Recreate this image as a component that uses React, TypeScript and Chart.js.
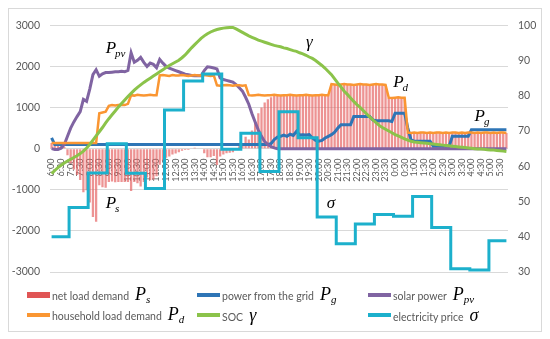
import React, { useEffect, useRef } from 'react';
import { Chart, registerables } from 'chart.js';

Chart.register(...registerables);

// Half-hour tick labels (6:00 -> 5:30 next day); data are every 10 minutes (3 slots per label)
const tickLabels = [
  '6:00','6:30','7:00','7:30','8:00','8:30','9:00','9:30','10:00','10:30','11:00','11:30',
  '12:00','12:30','13:00','13:30','14:00','14:30','15:00','15:30','16:00','16:30','17:00','17:30',
  '18:00','18:30','19:00','19:30','20:00','20:30','21:00','21:30','22:00','22:30','23:00','23:30',
  '0:00','0:30','1:00','1:30','2:00','2:30','3:00','3:30','4:00','4:30','5:00','5:30',
];
const slots = tickLabels.flatMap((t) => [t, '', '']);

// net load demand Ps (W), 10-min resolution
const netLoad = [
  140, 160, 160, 130,
  40, -160, -360, -510, -640, -760, -1060, -1010, -1310, -1660, -1780,
  -890, -940,
  -950, -810, -800, -820, -810, -810, -810, -810,
  -1030, -810, -840, -920, -810, -700, -770, -750, -670,
  -390, -290, -220, -190, -140, -120, -90, -50, -30, -30, 0, 20, 10, 10, -110, -210, -210, -180,
  -400, -190, -140, -110, -100, -90, -20, 60, 130, 290,
  220, 440, 650, 860, 1000, 1120, 1200, 1250, 1290,
  1300, 1290, 1300, 1300, 1310, 1300, 1290, 1300, 1300, 1310, 1300, 1290, 1300, 1300, 1310, 1300, 1300,
  1570, 1560, 1550, 1560, 1570, 1560, 1560, 1550, 1560, 1570, 1560, 1560, 1550, 1560, 1570, 1560, 1560, 1550,
  1240, 1230, 1240, 1250, 1240, 1240,
  390, 380, 390, 380, 390, 390, 380, 390, 380, 390, 390, 380, 390, 380, 390, 390,
  380, 390, 380, 390, 390, 380, 390, 380, 390, 390, 380, 390, 380, 390, 390, 380,
];

// power from the grid Pg (W)
const gridPower = [
  260,
  100, 100, 100, 100, 100, 100, 100, 100, 100, 100, 100, 100, 100, 100, 100, 100, 100,
  100, 100, 100, 100, 100, 100, 100, 100, 100, 100, 100, 100, 100, 100, 100, 100, 100,
  100, 100, 100, 100, 100, 100, 100, 100, 100, 100, 100, 100, 100, 100, 100, 100, 100,
  100, 100, 100, 100, 100, 100, 100, 100, 100, 100, 100, 100, 100, 100, 100, 100, 100,
  120, 220, 280, 300, 330, 300, 350, 320, 420, 330, 340, 330, 340, 260, 200, 180, 200, 260,
  300, 340, 400, 500, 580, 580, 580, 580, 780, 780, 780, 780, 780, 780, 700, 680, 680, 680,
  680, 680, 660, 860, 860, 860, 860, 500, 220,
  180, 180, 180, 180, 180, 180,
  60, 60, 60, 60, 60, 60,
  300, 300, 300, 300, 300, 300,
  460, 460, 460, 460, 460, 460, 460, 460, 460, 460, 460, 460,
];

// solar power Ppv (W)
const solarPower = [
  0, -20, -20, 10,
  100, 300, 500, 650, 780, 900, 1200, 1150, 1450, 1800, 1920, 1760, 1820, 1850, 1850, 1860, 1870, 1870, 1880, 1870, 1900,
  2330, 2100, 2150, 2220, 2100, 2000, 2080, 2050, 1970, 2170, 2080,
  2000, 1960, 1930, 1900, 1870, 1840, 1810, 1800, 1780, 1770, 1770, 1770, 1900, 1990, 1980, 1960, 1940,
  1720, 1680, 1660, 1640, 1620, 1560, 1480, 1400, 1250, 1080, 850, 650, 450, 300, 170, 100, 50, 20,
  0, 0, 0, 0, 0, 0, 0, 0, 0, 0, 0, 0, 0, 0, 0, 0, 0, 0, 0, 0, 0, 0, 0, 0, 0,
  0, 0, 0, 0, 0, 0, 0, 0, 0, 0, 0, 0, 0, 0, 0, 0, 0, 0, 0, 0, 0, 0, 0, 0,
  0, 0, 0, 0, 0, 0, 0, 0, 0, 0, 0, 0, 0, 0, 0, 0, 0, 0, 0, 0, 0, 0, 0, 0,
];

// household load demand Pd (W)
const householdLoad = [
  140, 140, 140, 140, 140, 140, 140, 140, 140, 140, 140, 140, 140, 140, 140,
  860, 880, 900,
  1040, 1060, 1050, 1060, 1070, 1060, 1090,
  1300, 1290, 1310, 1300, 1290, 1300, 1310, 1300, 1300,
  1780, 1790, 1780, 1770, 1790, 1780, 1780, 1790, 1780, 1770, 1780, 1790, 1780, 1780, 1790, 1780, 1770, 1780,
  1540, 1530, 1540, 1550, 1540, 1530, 1540, 1540, 1530, 1540,
  1300, 1290, 1300, 1310, 1300, 1290, 1300, 1300, 1310, 1300, 1290, 1300, 1300,
  1310, 1300, 1290, 1300, 1300, 1310, 1300, 1290, 1300, 1300, 1310, 1300, 1300,
  1570, 1560, 1550, 1560, 1570, 1560, 1560, 1550, 1560, 1570, 1560, 1560, 1550, 1560, 1570, 1560, 1560, 1550,
  1240, 1230, 1240, 1250, 1240, 1240,
  390, 380, 390, 380, 390, 390, 380, 390, 380, 390, 390, 380, 390, 380, 390, 390,
  380, 390, 380, 390, 390, 380, 390, 380, 390, 390, 380, 390, 380, 390, 390, 380,
];

// SOC gamma (%), right axis
const soc = [
  57.9, 58.8, 59.6, 60.3, 60.9, 61.5, 62.0, 62.5, 63.0, 63.6, 64.3, 65.2, 66.2, 67.4, 68.6, 69.8,
  71.0, 72.3, 73.5, 74.6, 75.7, 76.8, 77.8, 78.8, 79.8, 80.7, 81.6, 82.4, 83.1, 83.8, 84.4, 85.0,
  85.6, 86.2, 86.8, 87.4, 88.0, 88.6, 89.1, 89.6, 90.1, 90.8, 91.6, 92.6, 93.6, 94.5, 95.4, 96.3,
  97.0, 97.6, 98.1, 98.5, 98.8, 99.0, 99.2, 99.3, 99.4, 99.4, 99.0, 98.5, 98.0, 97.5, 97.0, 96.6,
  96.2, 95.8, 95.5, 95.2, 94.9, 94.6, 94.3, 94.1, 93.9, 93.6, 93.4, 93.1, 92.8, 92.6, 92.2, 91.9,
  91.5, 91.0, 90.6, 90.0, 89.3, 88.6, 87.8, 86.9, 86.0, 84.8, 83.6, 82.5, 81.3, 80.4, 79.4, 78.4,
  77.5, 76.7, 75.8, 74.9, 74.0, 73.2, 72.4, 71.6, 71.0, 70.5, 70.0, 69.5, 69.0, 68.6, 68.2, 67.8,
  67.4, 67.1, 66.9, 66.8, 66.7, 66.6, 66.5, 66.4, 66.3, 66.2, 66.1, 66.0, 65.9, 65.8, 65.7, 65.6,
  65.5, 65.4, 65.3, 65.2, 65.1, 65.0, 64.9, 64.9, 64.8, 64.7, 64.6, 64.6, 64.5, 64.4, 64.3, 64.2,
];

// electricity price sigma, hourly from 6:00, right axis
const priceHourly = [
  40, 48.3, 58.1, 66.4, 58, 53.7, 76, 84.2, 86.2, 64.8, 69.4, 58.5,
  75.5, 68.1, 45.6, 38, 43.6, 46.3, 45.8, 51.4, 42.6, 30.9, 30.6, 38.9,
];
const price = slots.map((_, i) => priceHourly[Math.floor(i / 6)]);

// in-plot symbol annotations: slot index, left-axis value
const annoMain = ['P', 'γ', 'P', 'P', 'P', 'σ'];
const annoSub = ['pv', '', 'd', 'g', 's', ''];
const annoSlot = [17, 80, 107.4, 133, 17, 86.5];
const annoValue = [2330, 2480, 1500, 670, -1450, -1450];

const COLORS = {
  bar: 'rgba(228, 96, 96, 0.68)',
  barLegend: '#E05555',
  grid: '#2E75B6',
  solar: '#8064A2',
  load: '#FA9632',
  soc: '#8BC34A',
  price: '#1CB0CC',
  text: '#595959',
};

const legendItems = [
  { label: 'net load demand', main: 'P', sub: 's', color: COLORS.barLegend, bar: true },
  { label: 'power from the grid', main: 'P', sub: 'g', color: COLORS.grid, bar: false },
  { label: 'solar power', main: 'P', sub: 'pv', color: COLORS.solar, bar: false },
  { label: 'household load demand', main: 'P', sub: 'd', color: COLORS.load, bar: false },
  { label: 'SOC', main: 'γ', sub: '', color: COLORS.soc, bar: false },
  { label: 'electricity price', main: 'σ', sub: '', color: COLORS.price, bar: false },
];
const legendCols = [18, 188, 359];
const legendRows = [286, 306];

const annotationPlugin = {
  id: 'symbols',
  afterDatasetsDraw(chart: any) {
    const { ctx, scales } = chart;
    ctx.save();
    ctx.fillStyle = '#000';
    ctx.textBaseline = 'alphabetic';
    ctx.textAlign = 'left';
    for (let k = 0; k < annoMain.length; k++) {
      const x = scales.x.getPixelForValue(annoSlot[k]);
      const y = scales.y.getPixelForValue(annoValue[k]);
      ctx.font = 'italic 17px "Liberation Serif", "DejaVu Serif", serif';
      ctx.fillText(annoMain[k], x, y);
      if (annoSub[k]) {
        const w = ctx.measureText(annoMain[k]).width;
        ctx.font = 'italic 11px "Liberation Serif", "DejaVu Serif", serif';
        ctx.fillText(annoSub[k], x + w - 1, y + 4);
      }
    }
    ctx.restore();
  },
};

function ChartCanvas() {
  const ref = useRef<HTMLCanvasElement | null>(null);
  useEffect(() => {
    if (!ref.current) return;
    Chart.defaults.font.family = 'Lato, "Liberation Sans", sans-serif';
    const lineBase = { type: 'line' as const, pointRadius: 0, borderWidth: 3, fill: false, tension: 0 };
    const chart = new Chart(ref.current, {
      type: 'bar',
      data: {
        labels: slots,
        datasets: [
          { type: 'bar', label: 'net load demand', data: netLoad, backgroundColor: COLORS.bar, borderWidth: 0, barPercentage: 0.72, categoryPercentage: 1, yAxisID: 'y', order: 6 } as any,
          { ...lineBase, label: 'power from the grid', data: gridPower, borderColor: COLORS.grid, yAxisID: 'y', order: 5 },
          { ...lineBase, label: 'solar power', data: solarPower, borderColor: COLORS.solar, yAxisID: 'y', order: 4 },
          { ...lineBase, label: 'household load demand', data: householdLoad, borderColor: COLORS.load, borderWidth: 2.5, yAxisID: 'y', order: 3 },
          { ...lineBase, label: 'SOC', data: soc, borderColor: COLORS.soc, yAxisID: 'y1', order: 2 },
          { ...lineBase, label: 'electricity price', data: price, borderColor: COLORS.price, stepped: 'middle', yAxisID: 'y1', order: 1 },
        ],
      },
      options: {
        animation: false,
        responsive: false,
        devicePixelRatio: 1,
        layout: { padding: { top: 11, bottom: 17, left: 0, right: 0 } },
        plugins: { legend: { display: false }, tooltip: { enabled: false } },
        scales: {
          x: {
            type: 'category',
            position: { y: 0 } as any,
            z: 1,
            offset: true,
            grid: { display: false },
            border: { display: false },
            ticks: {
              autoSkip: false,
              minRotation: 90,
              maxRotation: 90,
              padding: 2,
              color: COLORS.text,
              font: { size: 9 },
            },
          },
          y: {
            type: 'linear',
            position: 'left',
            min: -3000,
            max: 3000,
            grid: { color: '#D9D9D9', drawTicks: false },
            border: { display: false },
            ticks: { stepSize: 1000, padding: 10, color: COLORS.text, font: { size: 10.5 }, callback: (v: any) => String(v) },
            afterFit: (s: any) => { s.width = 41; },
          },
          y1: {
            type: 'linear',
            position: 'right',
            min: 30,
            max: 100,
            grid: { display: false, drawTicks: false },
            border: { display: false },
            ticks: { stepSize: 10, padding: 10, color: COLORS.text, font: { size: 10.5 }, callback: (v: any) => String(v) },
            afterFit: (s: any) => { s.width = 33; },
          },
        },
      },
      plugins: [annotationPlugin],
    });
    return () => chart.destroy();
  }, []);
  return <canvas ref={ref} width={532} height={280} style={{ position: 'absolute', left: 0, top: 0, width: 532, height: 280 }} />;
}

export default function App() {
  return (
    <div
      style={{
        position: 'relative',
        width: 534,
        height: 324,
        boxSizing: 'border-box',
        border: '1px solid #D9D9D9',
        background: '#fff',
        fontFamily: 'Lato, "Liberation Sans", sans-serif',
      }}
    >
      <ChartCanvas />
      {legendItems.map((it, k) => (
        <div
          key={it.label}
          style={{
            position: 'absolute',
            left: legendCols[k % 3],
            top: legendRows[Math.floor(k / 3)] - 12,
            height: 24,
            display: 'flex',
            alignItems: 'center',
            whiteSpace: 'nowrap',
          }}
        >
          <span style={{ display: 'inline-block', width: 23, height: it.bar ? 6 : 4, background: it.color, marginRight: 2 }} />
          <span style={{ display: 'inline-flex', alignItems: 'baseline' }}>
            <span style={{ fontSize: 10.5, color: COLORS.text }}>{it.label}</span>
            <span style={{ fontFamily: '"Liberation Serif", "DejaVu Serif", serif', fontStyle: 'italic', fontSize: 18, color: '#000', marginLeft: 6, lineHeight: 1 }}>
              {it.main}
              {it.sub ? <sub style={{ fontSize: 11, verticalAlign: '-0.3em', lineHeight: 1 }}>{it.sub}</sub> : null}
            </span>
          </span>
        </div>
      ))}
    </div>
  );
}
